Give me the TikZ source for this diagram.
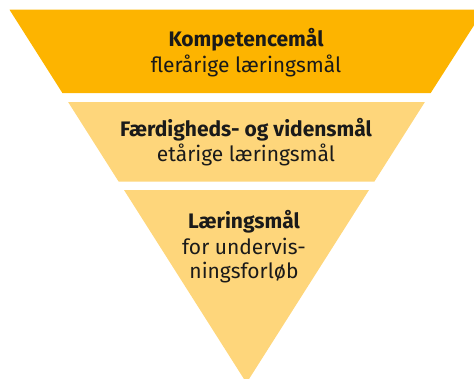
\documentclass[tikz,border=0pt]{standalone}
\usepackage{fontspec}
\setmainfont{Fira Sans}
\definecolor{topband}{HTML}{FDB400}
\definecolor{lightband}{HTML}{FED67B}
\definecolor{ink}{HTML}{1A1A1A}
\begin{document}
\begin{tikzpicture}[x=1pt,y=-1pt,
  boldline/.style={anchor=base,inner sep=0pt,text=ink,font=\fontsize{21}{24}\selectfont\bfseries},
  plainline/.style={anchor=base,inner sep=0pt,text=ink,font=\fontsize{21}{24}\selectfont}]
\useasboundingbox (0,0) rectangle (474,378);
\clip (0,0) rectangle (474,378);
% top band
\fill[topband] (9.5,9.7) -- (484,9.7) -- (430.7,93) -- (62.4,93) -- cycle;
% middle band
\fill[lightband] (68.1,102) -- (424.9,102) -- (374.3,181.7) -- (118.7,181.7) -- cycle;
% bottom triangle
\fill[lightband] (124,190) -- (369,190) -- (246.5,383) -- cycle;
% texts
\node[boldline] (t1) at (246,46.7) {Kompetencemål};
\node[plainline] (t2) at (246,72.7) {flerårige læringsmål};
\node[boldline] (m1) at (246,136) {Færdigheds- og vidensmål};
\node[plainline] (m2) at (246,161.7) {etårige læringsmål};
\node[boldline] (b1) at (244,228.3) {Læringsmål};
\node[plainline] (b2) at (244,254) {for undervis-};
\node[plainline] (b3) at (244,278.3) {ningsforløb};
\end{tikzpicture}
\end{document}
